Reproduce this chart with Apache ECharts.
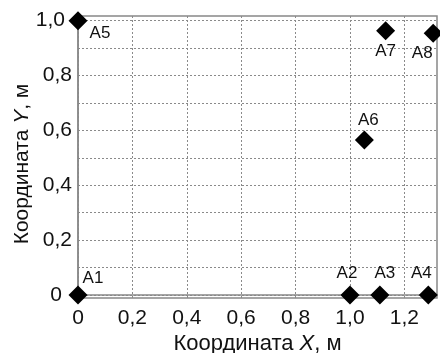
<!DOCTYPE html>
<html><head><meta charset="utf-8">
<script src="https://cdn.jsdelivr.net/npm/echarts@6/dist/echarts.min.js"></script>
<style>html,body{margin:0;padding:0;background:#fff}#c{width:440px;height:353px}</style>
</head><body><div id="c"></div>
<script>
const pointNames = ['A1','A2','A3','A4','A5','A6','A7','A8'];
const xValues = [0, 1.0, 1.11, 1.288, 0, 1.053, 1.131, 1.306];
const yValues = [0, 0, 0, 0, 1.0, 0.565, 0.963, 0.954];
const xTickLabels = [0, 0.2, 0.4, 0.6, 0.8, 1.0, 1.2];
const yTickLabels = [0, 0.2, 0.4, 0.6, 0.8, 1.0];
const yGridValues = [0, 0.1, 0.2, 0.3, 0.4, 0.5, 0.6, 0.7, 0.8, 0.9, 1.0];
// label offsets (px) relative to marker centre
const labelOffsets = [[15,-17],[-3,-22],[5,-22],[-7,-22],[22,13],[4,-20],[0,20],[-11,20]];

const fmt = v => (Math.abs(v) < 1e-9 ? '0' : v.toFixed(1).replace('.', ','));
const yFmt = v => {
  const s = fmt(v);
  if (Math.abs(v) < 1e-9) return '{z|' + s + '}';
  if (Math.abs(v - 1) < 1e-9) return '{o|' + s + '}';
  return s;
};
const font = '"Liberation Sans", Arial, sans-serif';
const txt = '#111';
const gridLine = {show: true, lineStyle: {color: '#8a8a8a', type: [2, 2], width: 1}};

const chart = echarts.init(document.getElementById('c'), null, {renderer: 'canvas'});
chart.setOption({
  animation: false,
  grid: {left: 78, top: 16, right: 3, bottom: 55, outerBoundsMode: 'none', containLabel: false,
    show: true, borderColor: '#888', borderWidth: 1.5, backgroundColor: 'transparent'},
  xAxis: {
    type: 'value', min: 0, max: 1.32,
    name: 'Координата {i|X}, м', nameLocation: 'middle', nameGap: 35, nameMoveOverlap: false,
    nameTextStyle: {fontFamily: font, fontSize: 22, color: txt, rich: {i: {fontStyle: 'italic', fontFamily: font, fontSize: 22, color: txt}}},
    axisLine: {show: true, lineStyle: {color: '#888', width: 1.5}},
    axisTick: {show: false, customValues: xTickLabels},
    axisLabel: {customValues: xTickLabels, formatter: fmt, fontFamily: font, fontSize: 21, color: txt, margin: 10},
    splitLine: gridLine
  },
  yAxis: {
    type: 'value', min: -0.011, max: 1.017,
    name: 'Координата {i|Y}, м', nameLocation: 'middle', nameGap: 45, nameRotate: 90, nameMoveOverlap: false,
    nameTextStyle: {fontFamily: font, fontSize: 21, color: txt, padding: [0, 14, 0, 0], rich: {i: {fontStyle: 'italic', fontFamily: font, fontSize: 21, color: txt}}},
    axisLine: {show: true, lineStyle: {color: '#888', width: 1.5}},
    axisTick: {show: false, customValues: yGridValues},
    axisLabel: {customValues: yTickLabels, formatter: yFmt, fontFamily: font, fontSize: 21, color: txt, margin: 6,
      rich: {
        z: {fontFamily: font, fontSize: 21, color: txt, padding: [0, 10, 0, 0]},
        o: {fontFamily: font, fontSize: 21, color: txt, padding: [0, 7, 0, 0]}
      }},
    splitLine: gridLine
  },
  series: [{
    type: 'scatter',
    symbol: 'diamond',
    symbolSize: 19,
    itemStyle: {color: '#000', opacity: 1},
    data: pointNames.map((n, i) => ({
      name: n, value: [xValues[i], yValues[i]],
      label: {show: true, position: 'inside', offset: labelOffsets[i], formatter: '{b}', fontFamily: font, fontSize: 17, color: txt}
    }))
  }]
});
</script></body></html>
